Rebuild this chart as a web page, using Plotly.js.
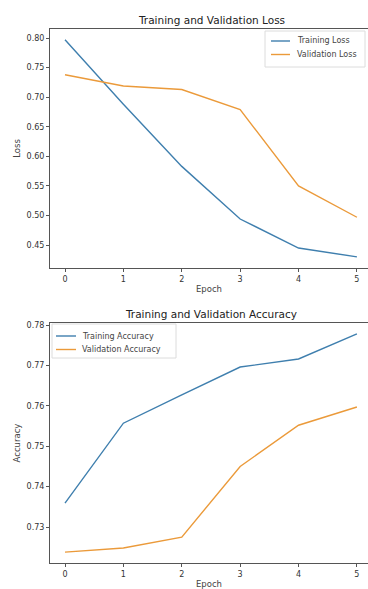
<!DOCTYPE html>
<html>
<head>
<meta charset="utf-8">
<script src="https://cdn.plot.ly/plotly-3.0.1.min.js"></script>
<style>html,body{margin:0;padding:0;background:#fff;}#chart{width:368px;height:589px;}</style>
</head>
<body>
<div id="chart"></div>
<script>
const epochs = [0, 1, 2, 3, 4, 5];
const trainLoss = [0.797, 0.688, 0.583, 0.494, 0.445, 0.430];
const valLoss = [0.738, 0.719, 0.713, 0.679, 0.550, 0.497];
const trainAcc = [0.7359, 0.7557, 0.7627, 0.7696, 0.7716, 0.7778];
const valAcc = [0.7238, 0.7248, 0.7275, 0.7450, 0.7552, 0.7597];
const lossTicks = [0.45, 0.50, 0.55, 0.60, 0.65, 0.70, 0.75, 0.80];
const accTicks = [0.73, 0.74, 0.75, 0.76, 0.77, 0.78];
const lossNames = ['Training Loss', 'Validation Loss'];
const accNames = ['Training Accuracy', 'Validation Accuracy'];

const blue = '#3f7fae';
const orange = '#eb9a3a';
const font = {family: 'DejaVu Sans, sans-serif', color: '#333', size: 8};

const traces = [
  {x: epochs, y: trainLoss, name: lossNames[0], mode: 'lines', line: {color: blue, width: 1.4}, xaxis: 'x', yaxis: 'y'},
  {x: epochs, y: valLoss, name: lossNames[1], mode: 'lines', line: {color: orange, width: 1.4}, xaxis: 'x', yaxis: 'y'},
  {x: epochs, y: trainAcc, name: accNames[0], mode: 'lines', line: {color: blue, width: 1.4}, xaxis: 'x2', yaxis: 'y2'},
  {x: epochs, y: valAcc, name: accNames[1], mode: 'lines', line: {color: orange, width: 1.4}, xaxis: 'x2', yaxis: 'y2'}
];

const H = 589, W = 368;
const px = v => v / W;
const py = v => 1 - v / H;

const xCommon = {
  range: [-0.257, 5.19], tickvals: epochs, ticktext: epochs.map(String),
  showline: true, linecolor: '#555', linewidth: 1, mirror: true,
  ticks: 'outside', ticklen: 3, tickcolor: '#555', showgrid: false, zeroline: false,
  tickfont: font, domain: [50 / W, 1]
};
const yCommon = {
  showline: true, linecolor: '#555', linewidth: 1,
  ticks: 'outside', ticklen: 3, tickcolor: '#555', showgrid: false, zeroline: false,
  tickfont: font
};

// custom compact legends (box, sample lines, labels) in paper coordinates
const shapes = [];
const annotations = [];
function addLegend(box, sx0, sx1, tx, rows, names, colors) {
  shapes.push({type: 'rect', xref: 'paper', yref: 'paper', x0: px(box[0]), x1: px(box[1]), y0: py(box[3]), y1: py(box[2]),
    line: {color: '#dcdcdc', width: 1}, fillcolor: 'rgba(255,255,255,0.9)', layer: 'above'});
  names.forEach((n, i) => {
    shapes.push({type: 'line', xref: 'paper', yref: 'paper', x0: px(sx0), x1: px(sx1), y0: py(rows[i]), y1: py(rows[i]),
      line: {color: colors[i], width: 1.4}, layer: 'above'});
    annotations.push({text: n, xref: 'paper', yref: 'paper', x: px(tx), y: py(rows[i]), xanchor: 'left', yanchor: 'middle',
      showarrow: false, font: {size: 8, color: '#444'}});
  });
}
addLegend([265, 365, 31, 67], 271, 290, 295, [41, 54.5], lossNames, [blue, orange]);
addLegend([52, 176, 324, 358], 56, 76, 80, [336, 349.5], accNames, [blue, orange]);

annotations.push(
  {text: 'Training and Validation Loss', xref: 'paper', yref: 'paper', x: px(211), y: py(20),
    xanchor: 'center', yanchor: 'middle', showarrow: false, font: {size: 10.5, color: '#222'}},
  {text: 'Training and Validation Accuracy', xref: 'paper', yref: 'paper', x: px(211), y: py(314),
    xanchor: 'center', yanchor: 'middle', showarrow: false, font: {size: 10.5, color: '#222'}}
);

const layout = {
  width: W, height: H,
  margin: {l: 0, r: 0, t: 0, b: 0},
  paper_bgcolor: '#fff', plot_bgcolor: '#fff',
  font: font,
  showlegend: false,
  xaxis: Object.assign({}, xCommon, {anchor: 'y', title: {text: 'Epoch', font: {size: 8.5, color: '#444'}, standoff: 3}}),
  yaxis: Object.assign({}, yCommon, {anchor: 'x', domain: [1 - 268 / H, 1 - 29 / H], range: [0.4112, 0.8153],
    tickvals: lossTicks, ticktext: lossTicks.map(v => v.toFixed(2)),
    title: {text: 'Loss', font: {size: 8.5, color: '#444'}, standoff: 4}}),
  xaxis2: Object.assign({}, xCommon, {anchor: 'y2', title: {text: 'Epoch', font: {size: 8.5, color: '#444'}, standoff: 3}}),
  yaxis2: Object.assign({}, yCommon, {anchor: 'x2', domain: [1 - 563 / H, 1 - 323 / H], range: [0.7211, 0.7805],
    tickvals: accTicks, ticktext: accTicks.map(v => v.toFixed(2)),
    title: {text: 'Accuracy', font: {size: 8.5, color: '#444'}, standoff: 4}}),
  shapes: shapes,
  annotations: annotations
};

Plotly.newPlot('chart', traces, layout, {displayModeBar: false, staticPlot: true});
</script>
</body>
</html>
